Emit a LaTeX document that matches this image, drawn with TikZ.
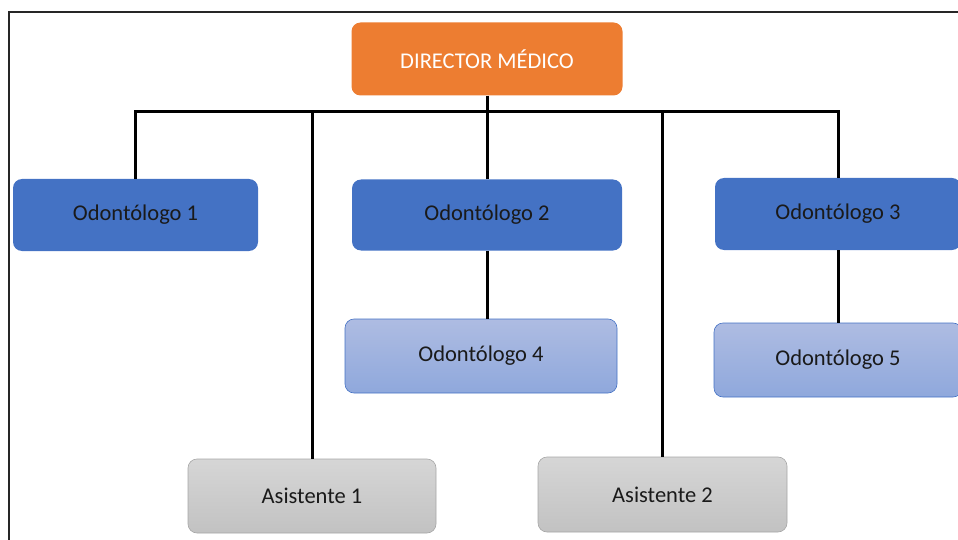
\documentclass[tikz,border=0pt]{standalone}
\usepackage{fontspec}
\setmainfont{Carlito}
\definecolor{dirorange}{HTML}{ED7D31}
\definecolor{odblue}{HTML}{4472C4}
\definecolor{ltbluetop}{HTML}{AEBCE2}
\definecolor{ltbluebot}{HTML}{8FA8DC}
\definecolor{greytop}{HTML}{D6D6D6}
\definecolor{greybot}{HTML}{C2C2C2}
\definecolor{greyline}{HTML}{A6A6A6}
\definecolor{labeltext}{HTML}{1A1A1A}
\begin{document}
\begin{tikzpicture}[x=1pt,y=-1pt,
  orgbox/.style={rounded corners=9pt, inner sep=0pt, align=center,
    font=\fontsize{22.5}{27}\selectfont, text=labeltext},
  directorbox/.style={orgbox, fill=dirorange, text=white},
  dentistbox/.style={orgbox, fill=odblue},
  juniorbox/.style={orgbox, draw=odblue, line width=0.6pt,
    top color=ltbluetop, bottom color=ltbluebot},
  assistbox/.style={orgbox, draw=greyline, line width=0.6pt,
    top color=greytop, bottom color=greybot},
  link/.style={line width=3pt, draw=black},
  frameline/.style={line width=1.6pt, draw=black!85}]
\useasboundingbox (0,0) rectangle (958,540);
\clip (0,0) rectangle (958,540);

% outer frame (open to the right and bottom)
\draw[frameline] (9,545) -- (9,12) -- (965,12);

% boxes
\node[directorbox, minimum width=271pt, minimum height=73pt] (dir) at (487,59) {DIRECTOR MÉDICO};
\node[dentistbox, minimum width=245pt, minimum height=72pt] (o1) at (135.5,215) {Odontólogo 1};
\node[dentistbox, minimum width=270pt, minimum height=71pt] (o2) at (487,215) {Odontólogo 2};
\node[dentistbox, minimum width=246pt, minimum height=72pt] (o3) at (838,214) {Odontólogo 3};
\node[juniorbox, minimum width=272pt, minimum height=74pt] (o4) at (481,356) {Odontólogo 4};
\node[juniorbox, minimum width=248pt, minimum height=74pt] (o5) at (838,360) {Odontólogo 5};
\node[assistbox, minimum width=248pt, minimum height=74pt] (a1) at (312,496) {Asistente 1};
\node[assistbox, minimum width=249pt, minimum height=75pt] (a2) at (662.5,494.5) {Asistente 2};

% horizontal distribution bar
\coordinate (bus) at (487,112);

% connectors
\draw[link] (dir.south) -- (bus);
\draw[link] (o1.north) |- (bus);
\draw[link] (o3.north) |- (bus);
\draw[link] (o2.north) -- (bus);
\draw[link] (a1.north) |- (bus);
\draw[link] (a2.north) |- (bus);
\draw[link] (o2.south) -- (o2.south |- o4.north);
\draw[link] (o3.south) -- (o3.south |- o5.north);
\end{tikzpicture}
\end{document}
